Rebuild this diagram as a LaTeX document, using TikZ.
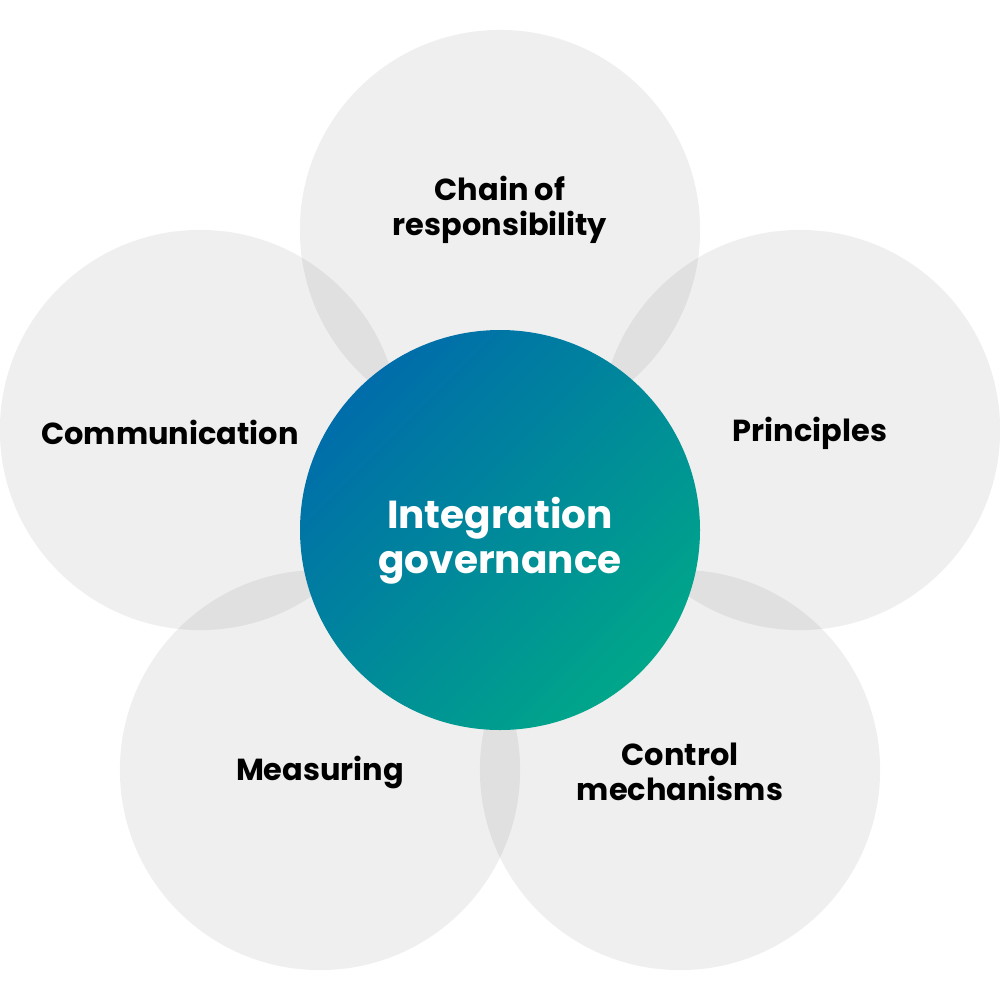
\documentclass[tikz,border=0pt]{standalone}
\usepackage{fontspec}
\setmainfont{Poppins}
\definecolor{gblue}{HTML}{006DAA}
\definecolor{ggreen}{HTML}{00A68A}
\tikzset{
  petal/.style={circle, minimum size=4cm, inner sep=0pt, fill=black, fill opacity=0.063},
  petallabel/.style={align=center, font=\fontsize{8.65}{10}\selectfont\bfseries, text=black},
  hublabel/.style={align=center, font=\fontsize{11.1}{12.8}\selectfont\bfseries, text=white}
}
\begin{document}
\begin{tikzpicture}[x=0.01cm,y=-0.01cm]
\useasboundingbox[fill=white] (0,0) rectangle (1000,1000);
\node[petal] (top) at (500,230) {};
\node[petal] (left) at (200,430) {};
\node[petal] (right) at (800,430) {};
\node[petal] (bl) at (320,770) {};
\node[petal] (br) at (680,770) {};
\shade[top color=gblue, bottom color=ggreen, shading angle=45] (500,530) circle[radius=200];
\node[circle, minimum size=4cm, inner sep=0pt] (hub) at (500,530) {};
\node[petallabel] (tl) at (500,210) {Chain of\\responsibility};
\node[petallabel] (ll) at (170,432) {Communication};
\node[petallabel] (rl) at (810,433) {Principles};
\node[petallabel] (bll) at (320,772) {Measuring};
\node[petallabel] (brl) at (680,772) {Control\\mechanisms};
\node[hublabel] (hl) at (500,541) {Integration\\governance};
\end{tikzpicture}
\end{document}
